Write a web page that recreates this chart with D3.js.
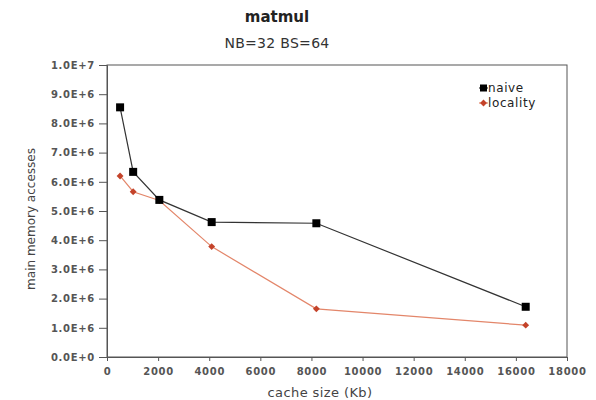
<!DOCTYPE html>
<html>
<head>
<meta charset="utf-8">
<script src="https://cdn.jsdelivr.net/npm/d3@7/dist/d3.min.js"></script>
<style>
  html, body { margin: 0; padding: 0; background: #fff; }
  svg { display: block; font-family: "DejaVu Sans", sans-serif; }
</style>
</head>
<body>
<svg id="chart" width="596" height="400"></svg>
<script>
// Cache sizes (Kb) and main memory accesses for the two matmul variants
const cacheSizes = [512, 1024, 2048, 4096, 8192, 16384];
const naive      = [8.55e6, 6.34e6, 5.38e6, 4.62e6, 4.58e6, 1.72e6];
const locality   = [6.20e6, 5.66e6, 5.36e6, 3.78e6, 1.65e6, 1.09e6];
const xTicks = [0, 2000, 4000, 6000, 8000, 10000, 12000, 14000, 16000, 18000];
const yTicks = [0, 1e6, 2e6, 3e6, 4e6, 5e6, 6e6, 7e6, 8e6, 9e6, 1e7];
const seriesNames = ["naive", "locality"];

const svg = d3.select("#chart");
const plotLeft = 107, plotRight = 567, plotTop = 65, plotBottom = 357;

const x = d3.scaleLinear().domain([0, 18000]).range([plotLeft, plotRight]);
const y = d3.scaleLinear().domain([0, 1e7]).range([plotBottom, plotTop]);

// Titles
svg.append("text").attr("x", 277).attr("y", 22).attr("text-anchor", "middle")
  .attr("font-size", 15).attr("font-weight", "bold").attr("fill", "#222").text("matmul");
svg.append("text").attr("x", 277).attr("y", 48).attr("text-anchor", "middle")
  .attr("font-size", 14).attr("letter-spacing", 0.3).attr("fill", "#333").text("NB=32 BS=64");

// Plot frame
svg.append("rect").attr("x", plotLeft).attr("y", plotTop)
  .attr("width", plotRight - plotLeft).attr("height", plotBottom - plotTop)
  .attr("fill", "none").attr("stroke", "#555").attr("stroke-width", 1);

const fmtY = d => {
  if (d === 0) return "0.0E+0";
  const e = Math.floor(Math.log10(d));
  return (d / Math.pow(10, e)).toFixed(1) + "E+" + e;
};

// Axes
const yAxis = svg.append("g").attr("transform", `translate(${plotLeft},0)`)
  .call(d3.axisLeft(y).tickValues(yTicks).tickFormat(fmtY).tickSize(8).tickPadding(4));
const xAxis = svg.append("g").attr("transform", `translate(0,${plotBottom})`)
  .call(d3.axisBottom(x).tickValues(xTicks).tickFormat(d3.format("d")).tickSize(4).tickPadding(7));
[yAxis, xAxis].forEach(g => {
  g.select(".domain").attr("stroke", "#555");
  g.selectAll(".tick line").attr("stroke", "#555");
  g.selectAll(".tick text").attr("font-size", 10).attr("font-weight", "bold")
    .attr("letter-spacing", 0.7).attr("fill", "#555")
    .attr("font-family", "DejaVu Sans, sans-serif");
});

// Axis titles
svg.append("text").attr("x", 320).attr("y", 397).attr("text-anchor", "middle")
  .attr("font-size", 13).attr("letter-spacing", 0.4).attr("fill", "#444").text("cache size (Kb)");
svg.append("text").attr("transform", "translate(35,219) rotate(-90)")
  .attr("text-anchor", "middle").attr("font-size", 12).attr("fill", "#444")
  .text("main memory accesses");

// Series
const line = d3.line().x(d => x(d[0])).y(d => y(d[1]));
const naivePts = cacheSizes.map((c, i) => [c, naive[i]]);
const locPts = cacheSizes.map((c, i) => [c, locality[i]]);

svg.append("path").datum(locPts).attr("d", line)
  .attr("fill", "none").attr("stroke", "#e3866a").attr("stroke-width", 1.2);
svg.append("path").datum(naivePts).attr("d", line)
  .attr("fill", "none").attr("stroke", "#333").attr("stroke-width", 1.2);

const diamond = d3.symbol().type(d3.symbolDiamond2).size(30);
svg.selectAll(".loc").data(locPts).enter().append("path")
  .attr("transform", d => `translate(${x(d[0])},${y(d[1])})`)
  .attr("d", diamond).attr("fill", "#c4432a");
svg.selectAll(".naive").data(naivePts).enter().append("rect")
  .attr("x", d => x(d[0]) - 4).attr("y", d => y(d[1]) - 4)
  .attr("width", 8).attr("height", 8).attr("fill", "#000");

// Legend
const legend = svg.append("g").attr("transform", "translate(479,88)");
seriesNames.forEach((name, i) => {
  const g = legend.append("g").attr("transform", `translate(0,${i * 15})`);
  const col = i === 0 ? "#000" : "#c4432a";
  g.append("line").attr("x1", 0).attr("x2", 9).attr("y1", 0).attr("y2", 0)
    .attr("stroke", i === 0 ? "#333" : "#e3866a").attr("stroke-width", 1.2);
  if (i === 0) {
    g.append("rect").attr("x", 1).attr("y", -3.5).attr("width", 7).attr("height", 7).attr("fill", col);
  } else {
    g.append("path").attr("transform", "translate(4.5,0)").attr("d", diamond).attr("fill", col);
  }
  g.append("text").attr("x", 9).attr("y", 4).attr("font-size", 12)
    .attr("letter-spacing", 0.6).attr("fill", "#222").text(name);
});
</script>
</body>
</html>
